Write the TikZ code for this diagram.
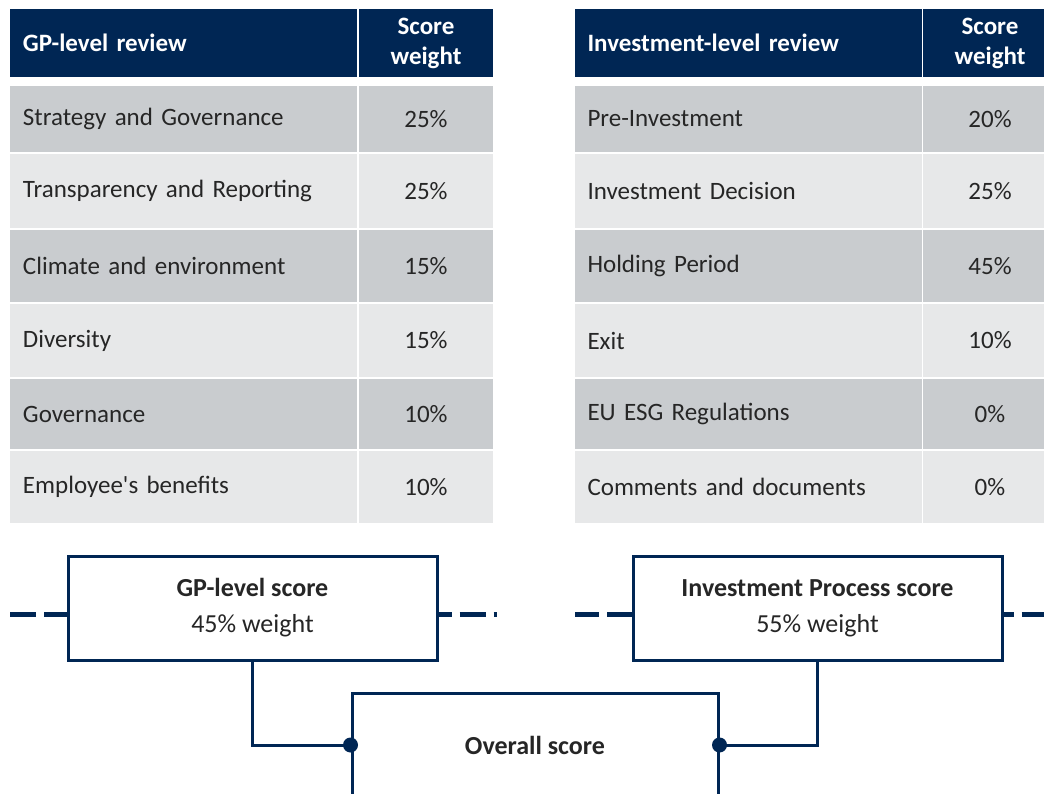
\documentclass[tikz,border=0pt]{standalone}
\usepackage{fontspec}
\setmainfont{Carlito}
\definecolor{navy}{RGB}{0,38,84}
\definecolor{rowdark}{RGB}{201,204,207}
\definecolor{rowlight}{RGB}{231,232,233}
\definecolor{ink}{RGB}{38,38,38}
\begin{document}
\begin{tikzpicture}[x=1pt, y=-1pt,
    head/.style={rectangle, fill=navy, text=white, font=\fontsize{25}{30}\selectfont\bfseries, minimum height=68pt, inner sep=0pt},
    headl/.style={head, text width=321pt, minimum width=347pt, align=left},
    headr/.style={head, minimum width=134pt, align=center},
    cell/.style={rectangle, text=ink, font=\fontsize{25}{30}\selectfont, inner sep=0pt},
    item/.style={cell, text width=321pt, minimum width=347pt, align=left},
    val/.style={cell, minimum width=134pt, align=center},
    dark/.style={fill=rowdark},
    light/.style={fill=rowlight},
    score/.style={rectangle, draw=navy, line width=3pt, fill=white, align=center, text=ink, font=\fontsize{26}{36}\selectfont, minimum width=369pt, minimum height=104pt},
    dashline/.style={draw=navy, line width=5pt, dash pattern=on 26pt off 8pt},
    link/.style={draw=navy, line width=3pt},
    joint/.style={circle, fill=navy, inner sep=0pt, minimum size=15pt}
]
\clip (0,0) rectangle (1044,794);

% GP-level table
\node[headl] (gphead) at (183.5,43) {GP-level review};
\node[headr] (gpweight) at (426,43) {Score\\weight};
\node[item, dark, minimum height=66pt] (gp1) at (183.5,119) {Strategy and Governance};
\node[val, dark, minimum height=66pt] (gpv1) at (426,119) {25\%};
\node[item, light, minimum height=74pt] (gp2) at (183.5,191) {Transparency and Reporting};
\node[val, light, minimum height=74pt] (gpv2) at (426,191) {25\%};
\node[item, dark, minimum height=72pt] (gp3) at (183.5,266) {Climate and environment};
\node[val, dark, minimum height=72pt] (gpv3) at (426,266) {15\%};
\node[item, light, minimum height=73pt] (gp4) at (183.5,340.5) {Diversity};
\node[val, light, minimum height=73pt] (gpv4) at (426,340.5) {15\%};
\node[item, dark, minimum height=70pt] (gp5) at (183.5,414) {Governance};
\node[val, dark, minimum height=70pt] (gpv5) at (426,414) {10\%};
\node[item, light, minimum height=72pt] (gp6) at (183.5,487) {Employee\textquotesingle s benefits};
\node[val, light, minimum height=72pt] (gpv6) at (426,487) {10\%};

% Investment-level table
\node[headl] (invhead) at (748,43) {Investment-level review};
\node[headr] (invweight) at (990,43) {Score\\weight};
\node[item, dark, minimum height=66pt] (inv1) at (748,119) {Pre-Investment};
\node[val, dark, minimum height=66pt] (invv1) at (990,119) {20\%};
\node[item, light, minimum height=74pt] (inv2) at (748,191) {Investment Decision};
\node[val, light, minimum height=74pt] (invv2) at (990,191) {25\%};
\node[item, dark, minimum height=72pt] (inv3) at (748,266) {Holding Period};
\node[val, dark, minimum height=72pt] (invv3) at (990,266) {45\%};
\node[item, light, minimum height=73pt] (inv4) at (748,340.5) {Exit};
\node[val, light, minimum height=73pt] (invv4) at (990,340.5) {10\%};
\node[item, dark, minimum height=70pt] (inv5) at (748,414) {EU ESG Regulations};
\node[val, dark, minimum height=70pt] (invv5) at (990,414) {0\%};
\node[item, light, minimum height=72pt] (inv6) at (748,487) {Comments and documents};
\node[val, light, minimum height=72pt] (invv6) at (990,487) {0\%};

% Scores
\node[score] (gp) at (252.5,608) {\textbf{GP-level score}\\45\% weight};
\node[score] (ip) at (817.5,608) {\textbf{Investment Process score}\\55\% weight};
\node[score, minimum width=366pt] (overall) at (535,745) {\textbf{Overall score}};

% Dashed lines
\coordinate (gpl) at (10,614);
\coordinate (gpr) at (497,614);
\coordinate (ipl) at (575,614);
\coordinate (ipr) at (1044,614);
\draw[dashline, dash phase=3pt] (gpl -| gp.west) -- (gpl);
\draw[dashline, dash phase=13pt] (gpr -| gp.east) -- (gpr);
\draw[dashline, dash phase=1pt] (ipl -| ip.west) -- (ipl);
\draw[dashline, dash phase=16pt] (ipr -| ip.east) -- (ipr);

% Links
\draw[link] (gp.south) |- (overall.west);
\draw[link] (ip.south) |- (overall.east);
\node[joint] (jl) at (overall.west) {};
\node[joint] (jr) at (overall.east) {};

\end{tikzpicture}
\end{document}
